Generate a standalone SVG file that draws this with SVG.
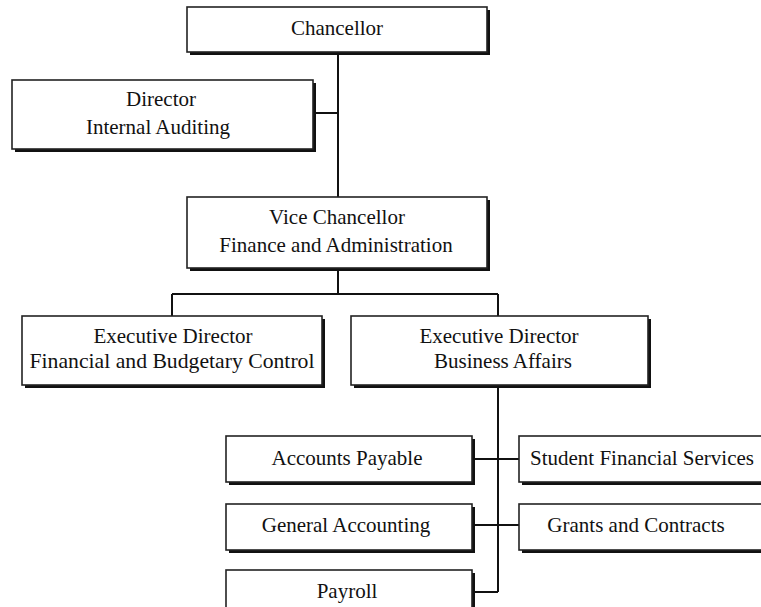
<svg xmlns="http://www.w3.org/2000/svg" width="761" height="607" viewBox="0 0 761 607">
<style>
.bg{fill:#fff}
.sh{fill:#111}
.bx{fill:#fff;stroke:#222;stroke-width:1.6}
.t{font-family:"Liberation Serif","Times New Roman",serif;font-size:21px;fill:#111;text-anchor:middle}
.c{stroke:#111;stroke-width:2;fill:none}
</style>
<rect class="bg" x="0" y="0" width="761" height="607"/>
<g id="connectors">
<path class="c" d="M338 52 V197"/>
<path class="c" d="M313 113 H338"/>
<path class="c" d="M338 268 V294"/>
<path class="c" d="M172 294 H498"/>
<path class="c" d="M172 294 V316"/>
<path class="c" d="M498 294 V316"/>
<path class="c" d="M498 385 V592"/>
<path class="c" d="M473 459 H519"/>
<path class="c" d="M473 525 H519"/>
<path class="c" d="M473 592 H498"/>
</g>
<g id="chancellor">
<rect class="sh" x="190" y="10" width="300" height="45"/>
<rect class="bx" x="187" y="7" width="300" height="45"/>
<text class="t" x="337" y="35">Chancellor</text>
</g>
<g id="director-internal-auditing">
<rect class="sh" x="15" y="83" width="301" height="69"/>
<rect class="bx" x="12" y="80" width="301" height="69"/>
<text class="t" x="161" y="106">Director</text>
<text class="t" x="158" y="134">Internal Auditing</text>
</g>
<g id="vice-chancellor">
<rect class="sh" x="190" y="200" width="300" height="71"/>
<rect class="bx" x="187" y="197" width="300" height="71"/>
<text class="t" x="337" y="224">Vice Chancellor</text>
<text class="t" x="336" y="252">Finance and Administration</text>
</g>
<g id="exec-financial-budgetary">
<rect class="sh" x="25" y="319" width="300" height="69"/>
<rect class="bx" x="22" y="316" width="300" height="69"/>
<text class="t" x="173" y="343">Executive Director</text>
<text class="t" x="172" y="368" textLength="285" lengthAdjust="spacingAndGlyphs">Financial and Budgetary Control</text>
</g>
<g id="exec-business-affairs">
<rect class="sh" x="354" y="319" width="297" height="69"/>
<rect class="bx" x="351" y="316" width="297" height="69"/>
<text class="t" x="499" y="343">Executive Director</text>
<text class="t" x="503" y="368">Business Affairs</text>
</g>
<g id="accounts-payable">
<rect class="sh" x="229" y="439" width="246" height="46"/>
<rect class="bx" x="226" y="436" width="246" height="46"/>
<text class="t" x="347" y="465">Accounts Payable</text>
</g>
<g id="general-accounting">
<rect class="sh" x="229" y="507" width="246" height="46"/>
<rect class="bx" x="226" y="504" width="246" height="46"/>
<text class="t" x="346" y="532">General Accounting</text>
</g>
<g id="payroll">
<rect class="sh" x="229" y="573" width="246" height="46"/>
<rect class="bx" x="226" y="570" width="246" height="46"/>
<text class="t" x="347" y="598">Payroll</text>
</g>
<g id="student-financial-services">
<rect class="sh" x="522" y="439" width="250" height="46"/>
<rect class="bx" x="519" y="436" width="250" height="46"/>
<text class="t" x="642" y="465">Student Financial Services</text>
</g>
<g id="grants-contracts">
<rect class="sh" x="522" y="507" width="250" height="46"/>
<rect class="bx" x="519" y="504" width="250" height="46"/>
<text class="t" x="636" y="532">Grants and Contracts</text>
</g>
</svg>
